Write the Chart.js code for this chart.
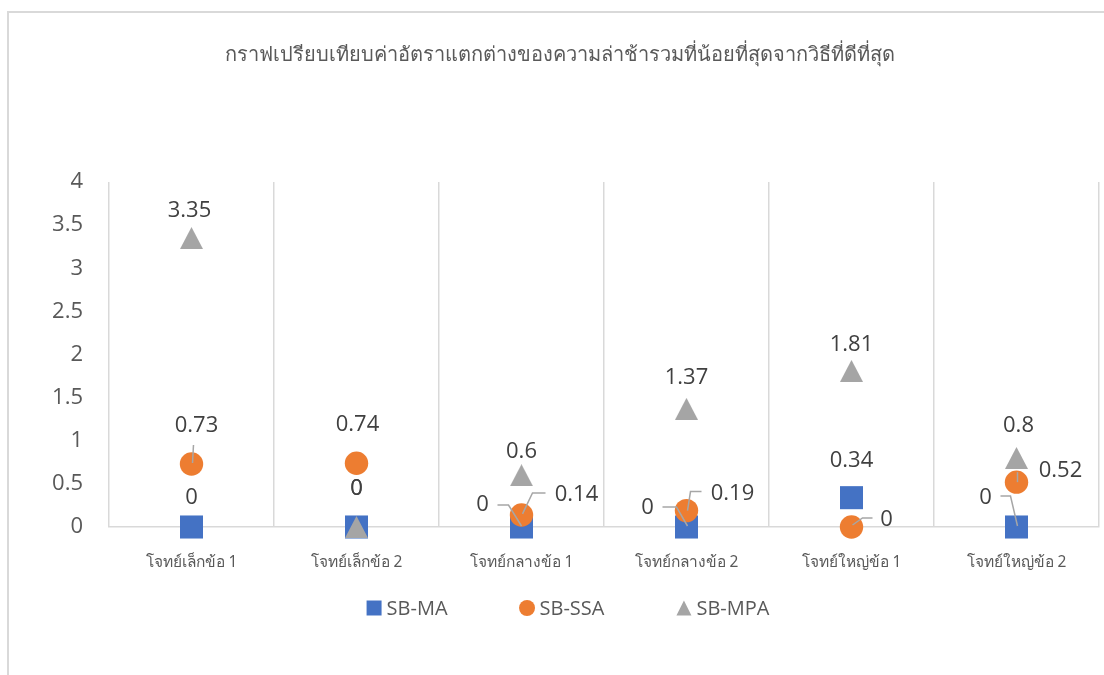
<!DOCTYPE html>
<html>
<head>
<meta charset="utf-8">
<script src="https://cdn.jsdelivr.net/npm/chart.js@4.4.1/dist/chart.umd.min.js"></script>
<style>
  html, body { margin: 0; padding: 0; background: #fff; }
  #wrap { width: 1104px; height: 675px; }
</style>
</head>
<body>
<div id="wrap"><canvas id="grafico" width="1104" height="675"></canvas></div>
<script>
const titulo = "กราฟเปรียบเทียบค่าอัตราแตกต่างของความล่าช้ารวมที่น้อยที่สุดจากวิธีที่ดีที่สุด";
const categorias = ["โจทย์เล็กข้อ 1", "โจทย์เล็กข้อ 2", "โจทย์กลางข้อ 1", "โจทย์กลางข้อ 2", "โจทย์ใหญ่ข้อ 1", "โจทย์ใหญ่ข้อ 2"];
const series = ["SB-MA", "SB-SSA", "SB-MPA"];
const valoresMA = [0, 0, 0, 0, 0.34, 0];
const valoresSSA = [0.73, 0.74, 0.14, 0.19, 0, 0.52];
const valoresMPA = [3.35, 0, 0.6, 1.37, 1.81, 0.8];
const ticksY = [0, 0.5, 1, 1.5, 2, 2.5, 3, 3.5, 4];

const colores = ["#4472C4", "#ED7D31", "#A5A5A5"];
const fuenteNum = "'Open Sans', 'DejaVu Sans', sans-serif";
const fuenteThai = "'Noto Sans', 'Open Sans', 'DejaVu Sans', sans-serif";

// desplazamiento de cada etiqueta respecto a su punto (px)
const despMA  = [[0, -29], [0, -38], [-39, -22], [-39, -19], [0, -37], [-31, -29]];
const despSSA = [[5, -38], [1, -38], [55, -20], [46, -17], [35, -7], [44, -11]];
const despMPA = [[-2, -27], [0, -38], [0, -24], [0, -31], [0, -26], [2, -32]];

// lineas guia (polilinea relativa al punto) para las etiquetas movidas
const guiaMA  = [null, null, [[-24, -22], [-13, -22], [0, -1]], [[-24, -20], [-10, -20], [1, -1]], null, [[-16, -31], [-6, -31], [1, -1]]];
const guiaSSA = [[[2, -19], [1, -1]], null, [[24, -22], [11, -22], [1, -1]], [[15, -19], [4, -19], [1, 0]], [[21, -9], [11, -9], [1, -2]], [[1, -10], [1, 0]]];
const guiaMPA = [null, null, null, null, null, null];

const desplazamientos = [despMA, despSSA, despMPA];
const guias = [guiaMA, guiaSSA, guiaMPA];

// triangulo propio: centrado por su caja, como en la hoja de calculo
function hacerTriangulo(w, h, color) {
  const c = document.createElement("canvas");
  c.width = w; c.height = h;
  const g = c.getContext("2d");
  g.fillStyle = color;
  g.beginPath();
  g.moveTo(0, h);
  g.lineTo(w / 2, 0);
  g.lineTo(w, h);
  g.closePath();
  g.fill();
  return c;
}
const triangulo = hacerTriangulo(23, 22, colores[2]);

const marco = {
  id: "marco",
  beforeDraw(chart) {
    const ctx = chart.ctx;
    ctx.save();
    ctx.fillStyle = "#fff";
    ctx.fillRect(0, 0, chart.width, chart.height);
    ctx.strokeStyle = "#d9d9d9";
    ctx.lineWidth = 2;
    ctx.strokeRect(8, 12, 2000, 2000);
    ctx.restore();
  }
};

const etiquetas = {
  id: "etiquetas",
  afterDatasetsDraw(chart) {
    const ctx = chart.ctx;
    ctx.save();
    ctx.strokeStyle = "#a6a6a6";
    ctx.lineWidth = 1.5;
    chart.data.datasets.forEach((ds, i) => {
      const meta = chart.getDatasetMeta(i);
      meta.data.forEach((pt, j) => {
        const g = guias[i][j];
        if (!g) return;
        ctx.beginPath();
        g.forEach(([gx, gy], k) => {
          if (k === 0) ctx.moveTo(pt.x + gx, pt.y + gy);
          else ctx.lineTo(pt.x + gx, pt.y + gy);
        });
        ctx.stroke();
      });
    });
    ctx.fillStyle = "#404040";
    ctx.font = "22px " + fuenteNum;
    ctx.textAlign = "center";
    ctx.textBaseline = "middle";
    chart.data.datasets.forEach((ds, i) => {
      const meta = chart.getDatasetMeta(i);
      meta.data.forEach((pt, j) => {
        const [dx, dy] = desplazamientos[i][j];
        ctx.fillText(String(ds.data[j]), pt.x + dx, pt.y + dy);
      });
    });
    ctx.restore();
  }
};

const leyenda = {
  id: "leyenda",
  afterDraw(chart) {
    const ctx = chart.ctx;
    const tam = 15, sep = 5, hueco = 72, cy = 608;
    ctx.save();
    ctx.font = "20px " + fuenteNum;
    ctx.textBaseline = "middle";
    ctx.textAlign = "left";
    const anchos = series.map(s => tam + sep + ctx.measureText(s).width);
    const total = anchos.reduce((a, b) => a + b, 0) + hueco * (series.length - 1);
    let x = 568 - total / 2;
    series.forEach((s, i) => {
      ctx.fillStyle = colores[i];
      ctx.beginPath();
      if (i === 0) ctx.rect(x, cy - tam / 2, tam, tam);
      else if (i === 1) ctx.arc(x + tam / 2, cy, tam / 2 + 0.5, 0, Math.PI * 2);
      else { ctx.moveTo(x, cy + tam / 2); ctx.lineTo(x + tam / 2, cy - tam / 2); ctx.lineTo(x + tam, cy + tam / 2); ctx.closePath(); }
      ctx.fill();
      ctx.fillStyle = "#595959";
      ctx.fillText(s, x + tam + sep, cy + 1);
      x += anchos[i] + hueco;
    });
    ctx.restore();
  }
};

const ctx = document.getElementById("grafico").getContext("2d");
new Chart(ctx, {
  type: "line",
  data: {
    labels: categorias,
    datasets: [
      { label: series[0], data: valoresMA, order: 3, pointStyle: "rect", pointRadius: 16.3, clip: false,
        backgroundColor: colores[0], borderColor: colores[0], borderWidth: 0 },
      { label: series[1], data: valoresSSA, order: 2, pointStyle: "circle", pointRadius: 11.7, clip: false,
        backgroundColor: colores[1], borderColor: colores[1], borderWidth: 0 },
      { label: series[2], data: valoresMPA, order: 1, pointStyle: triangulo, pointRadius: 12, clip: false,
        backgroundColor: colores[2], borderColor: colores[2], borderWidth: 0 }
    ]
  },
  options: {
    responsive: false,
    animation: false,
    events: [],
    showLine: false,
    layout: { autoPadding: false, padding: { left: 20, right: 5, top: 0, bottom: 0 } },
    plugins: {
      legend: { display: false },
      tooltip: { enabled: false },
      title: {
        display: true,
        text: titulo,
        color: "#595959",
        font: { family: fuenteThai, size: 20, weight: "normal" },
        padding: { top: 43, bottom: 115 }
      }
    },
    scales: {
      x: {
        offset: true,
        grid: { offset: true, color: "#d9d9d9", lineWidth: 1.5, drawTicks: false },
        border: { display: true, color: "#d9d9d9", width: 1.5 },
        ticks: { color: "#595959", font: { family: fuenteThai, size: 15.5 }, padding: 26, maxRotation: 0 },
        afterFit: s => { s.height = 148; }
      },
      y: {
        min: 0,
        max: 4,
        grid: { display: false, drawTicks: false },
        border: { display: false },
        afterBuildTicks: s => { s.ticks = ticksY.map(v => ({ value: v })); },
        ticks: { color: "#595959", font: { family: fuenteNum, size: 22 }, padding: 26,
          callback: v => String(v) },
        afterFit: s => { s.width = 89; }
      }
    }
  },
  plugins: [marco, etiquetas, leyenda]
});
</script>
</body>
</html>
